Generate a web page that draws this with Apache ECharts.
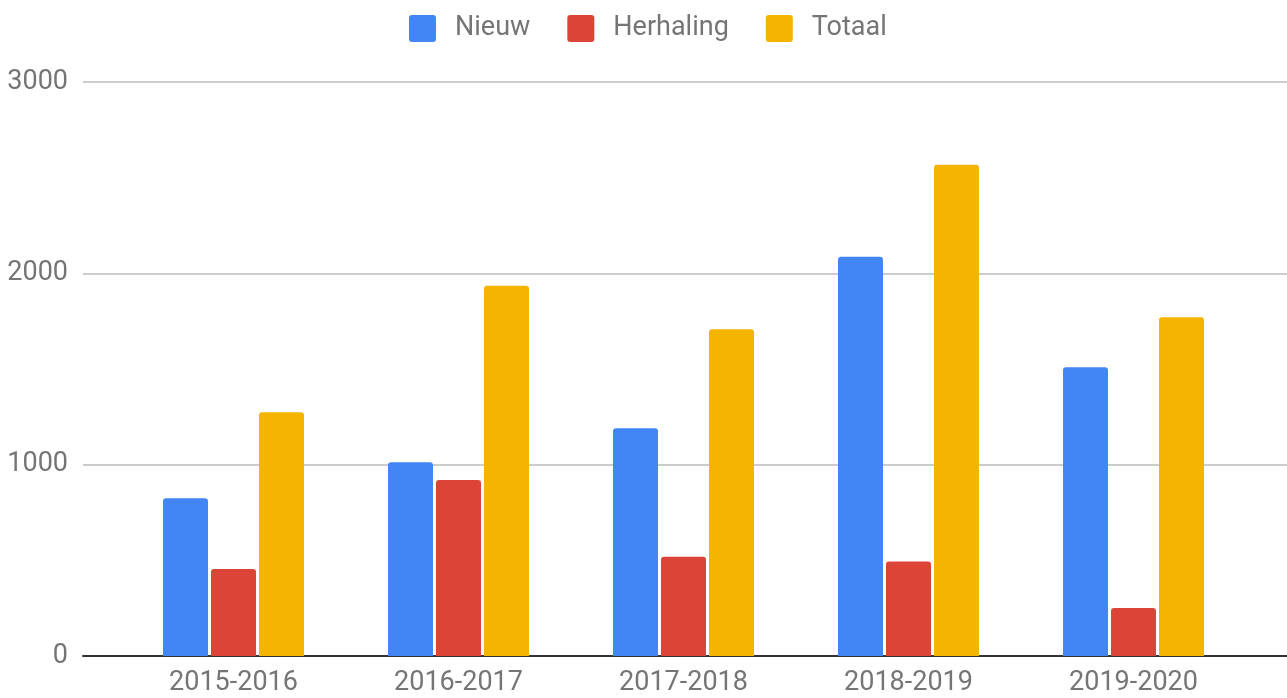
<!DOCTYPE html>
<html>
<head>
<meta charset="utf-8">
<script src="https://cdn.jsdelivr.net/npm/echarts@6/dist/echarts.min.js"></script>
<style>
html,body{margin:0;padding:0;background:#fff;}
#chart{width:1287px;height:698px;}
</style>
</head>
<body>
<div id="chart"></div>
<script>
const categories = ['2015-2016', '2016-2017', '2017-2018', '2018-2019', '2019-2020'];
const nieuw = [824, 1012, 1190, 2087, 1509];
const herhaling = [455, 920, 519, 494, 251];
const totaal = [1274, 1935, 1708, 2567, 1770];
const seriesNames = ['Nieuw', 'Herhaling', 'Totaal'];
const colors = ['#4285F4', '#DB4437', '#F4B400'];

const chart = echarts.init(document.getElementById('chart'));
const font = 'Roboto, "Noto Sans", sans-serif';
const barStyle = (c) => ({ color: c, borderRadius: [3, 3, 0, 0] });
const legendIcon = 'path://M3,0H24A3,3 0 0 1 27,3V24A3,3 0 0 1 24,27H3A3,3 0 0 1 0,24V3A3,3 0 0 1 3,0Z';

chart.setOption({
  animation: false,
  color: colors,
  textStyle: { fontFamily: font },
  legend: {
    top: 10,
    left: 404,
    icon: legendIcon,
    itemWidth: 27,
    itemHeight: 27,
    itemGap: 37,
    data: seriesNames,
    textStyle: { fontSize: 27, color: '#757575', fontFamily: font, padding: [0, 0, 0, 14] }
  },
  grid: [
    { left: 83, right: 0, top: 82, bottom: 42 },
    { left: 121, right: 41, top: 82, bottom: 42 }
  ],
  xAxis: [
    {
      gridIndex: 0, type: 'value', min: 0, max: 1,
      axisLine: { show: true, lineStyle: { color: '#333', width: 2 } },
      axisTick: { show: false }, axisLabel: { show: false }, splitLine: { show: false }
    },
    {
      gridIndex: 1, type: 'category', data: categories,
      axisLine: { show: false }, axisTick: { show: false },
      axisLabel: { fontSize: 27, color: '#757575', margin: 14, fontFamily: font }
    }
  ],
  yAxis: [
    {
      gridIndex: 0, type: 'value', min: 0, max: 3000, interval: 1000,
      axisLine: { show: false }, axisTick: { show: false },
      axisLabel: { fontSize: 27, color: '#757575', margin: 15, fontFamily: font, formatter: (v) => String(v) },
      splitLine: { lineStyle: { color: '#cccccc', width: 2 } }
    },
    {
      gridIndex: 1, type: 'value', min: 0, max: 3000, interval: 1000,
      show: false, splitLine: { show: false }
    }
  ],
  series: [
    { name: seriesNames[0], type: 'bar', xAxisIndex: 1, yAxisIndex: 1, data: nieuw, barWidth: 45, barGap: '6.7%', itemStyle: barStyle(colors[0]) },
    { name: seriesNames[1], type: 'bar', xAxisIndex: 1, yAxisIndex: 1, data: herhaling, barWidth: 45, barGap: '6.7%', itemStyle: barStyle(colors[1]) },
    { name: seriesNames[2], type: 'bar', xAxisIndex: 1, yAxisIndex: 1, data: totaal, barWidth: 45, barGap: '6.7%', itemStyle: barStyle(colors[2]) }
  ]
});
</script>
</body>
</html>
